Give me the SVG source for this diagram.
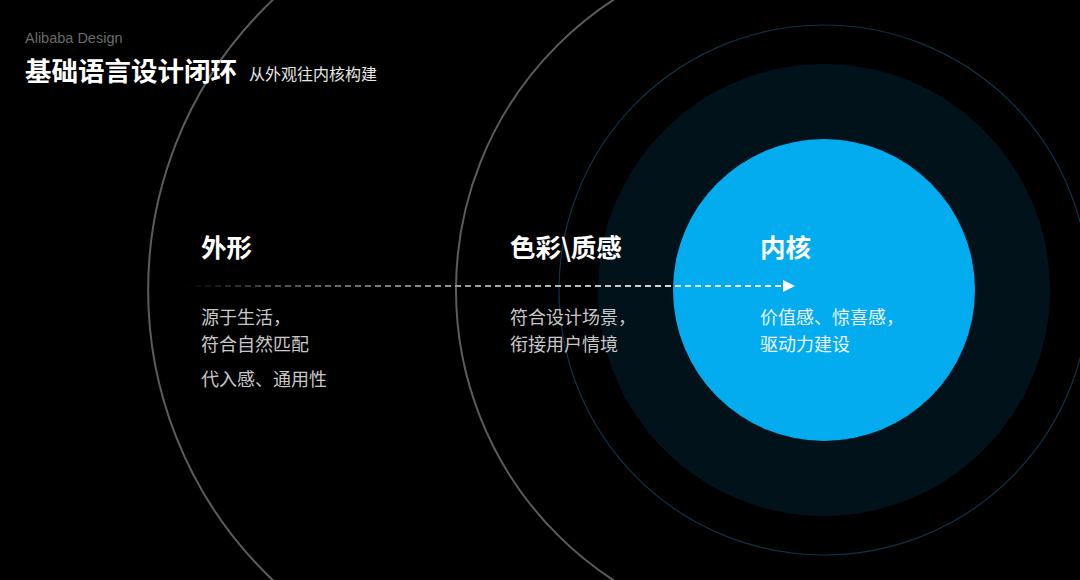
<svg xmlns="http://www.w3.org/2000/svg" width="1080" height="580" viewBox="0 0 1080 580">
  <defs>
    <style>
      .ring { fill: none; stroke: #5c5c5c; stroke-width: 2; }
      .head { font-family: "Noto Sans CJK SC", "Noto Sans", sans-serif; font-size: 25.5px; font-weight: 700; fill: #ffffff; }
      .body { font-family: "Noto Sans CJK SC", "Noto Sans", sans-serif; font-size: 18px; fill: #c8c8c8; }
      .bodyIn { font-family: "Noto Sans CJK SC", "Noto Sans", sans-serif; font-size: 18px; fill: #eaf7ff; }
    </style>
    <linearGradient id="dashGrad" gradientUnits="userSpaceOnUse" x1="185" y1="0" x2="795" y2="0">
      <stop offset="0" stop-color="#888888" stop-opacity="0"/>
      <stop offset="0.15" stop-color="#888888" stop-opacity="0.6"/>
      <stop offset="0.45" stop-color="#9a9a9a" stop-opacity="1"/>
      <stop offset="1" stop-color="#ffffff" stop-opacity="1"/>
    </linearGradient>
    <marker id="arrow" viewBox="0 0 12 12" refX="0" refY="6" markerWidth="12" markerHeight="12" markerUnits="userSpaceOnUse" orient="auto">
      <path d="M0,0 L12,6 L0,12 Z" fill="#ffffff"/>
    </marker>
  </defs>

  <rect x="0" y="0" width="1080" height="580" fill="#000000"/>

  <g id="backdrop">
    <path class="ring" d="M548,-110 A400,400 0 0 0 548,690"/>
    <path class="ring" d="M802,-56 A346,346 0 0 0 802,636"/>
    <circle cx="824" cy="290" r="265" fill="none" stroke="#0c3347" stroke-width="1.2"/>
    <circle cx="824" cy="290" r="226" fill="#02121a"/>
    <circle cx="824" cy="290" r="151" fill="#03abef"/>
  </g>

  <g id="title">
    <text x="25" y="43" font-family="Liberation Sans, Arial, sans-serif" font-size="14.5" fill="#6b6b6b">Alibaba Design</text>
    <text x="25" y="81" font-family="Noto Sans CJK SC, sans-serif" font-size="26.5" font-weight="700" fill="#ffffff">基础语言设计闭环</text>
    <text x="249" y="80" font-family="Noto Sans CJK SC, sans-serif" font-size="16" fill="#e6e6e6">从外观往内核构建</text>
  </g>

  <g id="connectors">
    <line x1="185" y1="286" x2="783" y2="286" stroke="url(#dashGrad)" stroke-width="2" stroke-dasharray="6 4" marker-end="url(#arrow)"/>
  </g>

  <g id="node-outer">
    <text class="head" x="201" y="257">外形</text>
    <text class="body" x="201" y="324">源于生活，</text>
    <text class="body" x="201" y="351">符合自然匹配</text>
    <text class="body" x="201" y="386">代入感、通用性</text>
  </g>

  <g id="node-color">
    <text class="head" x="510" y="257">色彩\质感</text>
    <text class="body" x="510" y="324">符合设计场景，</text>
    <text class="body" x="510" y="351">衔接用户情境</text>
  </g>

  <g id="node-core">
    <text class="head" x="760" y="257">内核</text>
    <text class="bodyIn" x="760" y="324">价值感、惊喜感，</text>
    <text class="bodyIn" x="760" y="351">驱动力建设</text>
  </g>
</svg>
